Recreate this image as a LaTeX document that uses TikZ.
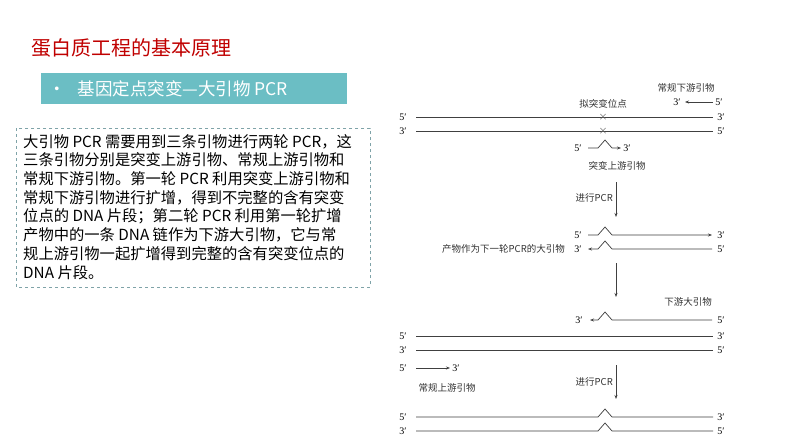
\documentclass[tikz,border=0pt]{standalone}
\usepackage{fontspec}
\setmainfont{Noto Sans CJK SC}
\newfontfamily\ser{Liberation Serif}
\usetikzlibrary{arrows.meta}
\definecolor{tred}{HTML}{C00000}
\definecolor{teal1}{HTML}{6BBEC4}
\definecolor{dashc}{HTML}{7FA3A8}
\begin{document}
\begin{tikzpicture}[x=1pt,y=-1pt,
  lab/.style={font=\ser\fontsize{10}{10}\selectfont,inner sep=0pt},
  cn/.style={font=\fontsize{9.5}{10}\selectfont,inner sep=1pt,text=black!80},
  dna/.style={line width=0.7pt,black!75},
  arr/.style={line width=0.7pt,black!75,-{Stealth[length=4pt,width=3pt]}}]
\useasboundingbox (0,0) rectangle (794,447);
\fill[white] (0,0) rectangle (794,447);
\node[anchor=west,text=tred,font=\fontsize{20}{22}\selectfont,inner sep=0] (title) at (31,48) {蛋白质工程的基本原理};
\fill[teal1] (41,73) rectangle (347,104);
\node[anchor=west,text=white,font=\fontsize{17.5}{20}\selectfont,inner sep=0] (sub) at (48,89) {•\hspace{12pt}基因定点突变—大引物 PCR};
\draw[dashc,dashed,line width=0.8pt] (16,128) rectangle (370,287);
\node[anchor=north west,align=left,font=\fontsize{15.3}{18.7}\selectfont,inner sep=0] (body) at (23,134) {大引物 PCR 需要用到三条引物进行两轮 PCR，这\\三条引物分别是突变上游引物、常规上游引物和\\常规下游引物。第一轮 PCR 利用突变上游引物和\\常规下游引物进行扩增，得到不完整的含有突变\\位点的 DNA 片段；第二轮 PCR 利用第一轮扩增\\产物中的一条 DNA 链作为下游大引物，它与常\\规上游引物一起扩增得到完整的含有突变位点的\\DNA 片段。};
% right diagram
\node[cn] (c1) at (686,88) {常规下游引物};
\node[lab] (p1a) at (677,102) {3′};
\node[lab] (p1b) at (719,102) {5′};
\draw[arr] (713,102) -- (685,102);
\node[cn] (c2) at (603,104) {拟突变位点};
\foreach \y/\a/\b in {117/5/3,131/3/5}{
  \node[lab] at (403,\y) {\a′}; \node[lab] at (721,\y) {\b′};
  \draw[dna] (416,\y) -- (713,\y);
  \node[font=\fontsize{9}{9}\selectfont,black!60,inner sep=0] at (603,\y) {×};}
\node[lab] (p2a) at (578,148) {5′};
\node[lab] (p2b) at (627,148) {3′};
\draw[arr] (588,148) -- (598,148) -- (605,140) -- (612,148) -- (621,148);
\node[cn] (c3) at (617,166) {突变上游引物};
\coordinate (a1s) at (616,182); \coordinate (a1e) at (616,217);
\draw[arr] (a1s) -- (a1e);
\node[cn,anchor=east] (c4) at (614,198) {进行PCR};
\node[lab] at (578,235) {5′}; \node[lab] at (721,235) {3′};
\draw[arr] (588,235) -- (598,235) -- (605,227) -- (612,235) -- (712,235);
\node[lab] at (578,249) {3′}; \node[lab] at (721,249) {5′};
\draw[arr] (712,249) -- (612,249) -- (605,241) -- (598,249) -- (588,249);
\node[cn,anchor=east] (c5) at (566,249) {产物作为下一轮PCR的大引物};
\coordinate (a2s) at (616,263); \coordinate (a2e) at (616,297);
\draw[arr] (a2s) -- (a2e);
\node[cn] (c6) at (688,302) {下游大引物};
\node[lab] at (579,320) {3′}; \node[lab] at (721,320) {5′};
\draw[arr] (712,320) -- (612,320) -- (605,312) -- (598,320) -- (590,320);
\foreach \y/\a/\b in {336/5/3,350/3/5}{
  \node[lab] at (403,\y) {\a′}; \node[lab] at (721,\y) {\b′};
  \draw[dna] (416,\y) -- (713,\y);}
\node[lab] at (403,368) {5′}; \node[lab] at (456,368) {3′};
\draw[arr] (416,368) -- (450,368);
\node[cn] (c7) at (447,388) {常规上游引物};
\coordinate (a3s) at (616,365); \coordinate (a3e) at (616,399);
\draw[arr] (a3s) -- (a3e);
\node[cn,anchor=east] (c8) at (614,382) {进行PCR};
\foreach \y/\a/\b in {417/5/3,431/3/5}{
  \node[lab] at (403,\y) {\a′}; \node[lab] at (721,\y) {\b′};
  \draw[dna] (416,\y) -- (598,\y) -- (605,\y-8) -- (612,\y) -- (713,\y);}
\end{tikzpicture}
\end{document}
